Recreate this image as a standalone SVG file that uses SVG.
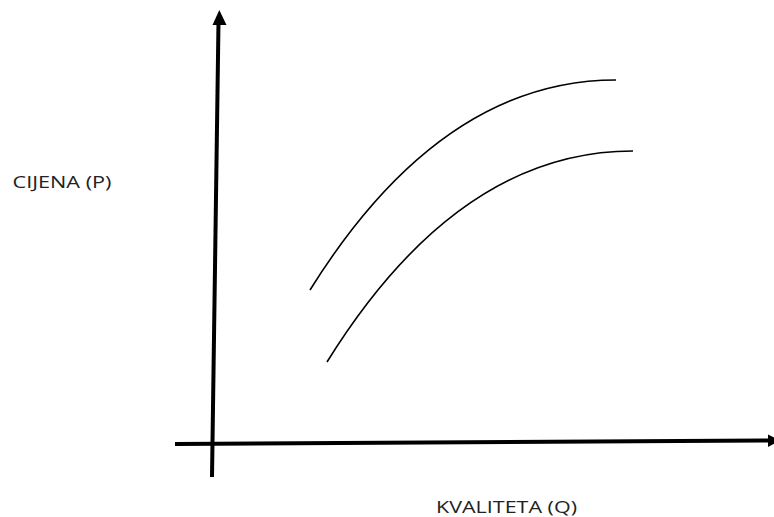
<svg xmlns="http://www.w3.org/2000/svg" width="774" height="517" viewBox="0 0 774 517">
<style>
.axis{stroke:#000;stroke-width:4;fill:none}
.curve{stroke:#000;stroke-width:1.6;fill:none}
.lbl{font-family:"Open Sans","Liberation Sans",sans-serif;font-size:17px;fill:#222}
</style>
<rect width="774" height="517" fill="#fff"/>
<g id="connectors">
<line class="axis" x1="212" y1="477" x2="218.5" y2="22"/>
<polygon points="219.3,10 226.5,25 212.5,25" fill="#000"/>
<line class="axis" x1="175" y1="444" x2="768" y2="440.5"/>
<polygon points="768,434.5 780,440.5 768,447" fill="#000"/>
</g>
<g id="curve1"><path class="curve" d="M310,290 Q441,80 616,80"/></g>
<g id="curve2"><path class="curve" d="M327,362 Q458,151 633,151"/></g>
<g id="label-p"><text class="lbl" x="12.5" y="188" textLength="99" lengthAdjust="spacingAndGlyphs">CIJENA (P)</text></g>
<g id="label-q"><text class="lbl" x="436" y="512.5" textLength="141" lengthAdjust="spacingAndGlyphs">KVALITETA (Q)</text></g>
</svg>
